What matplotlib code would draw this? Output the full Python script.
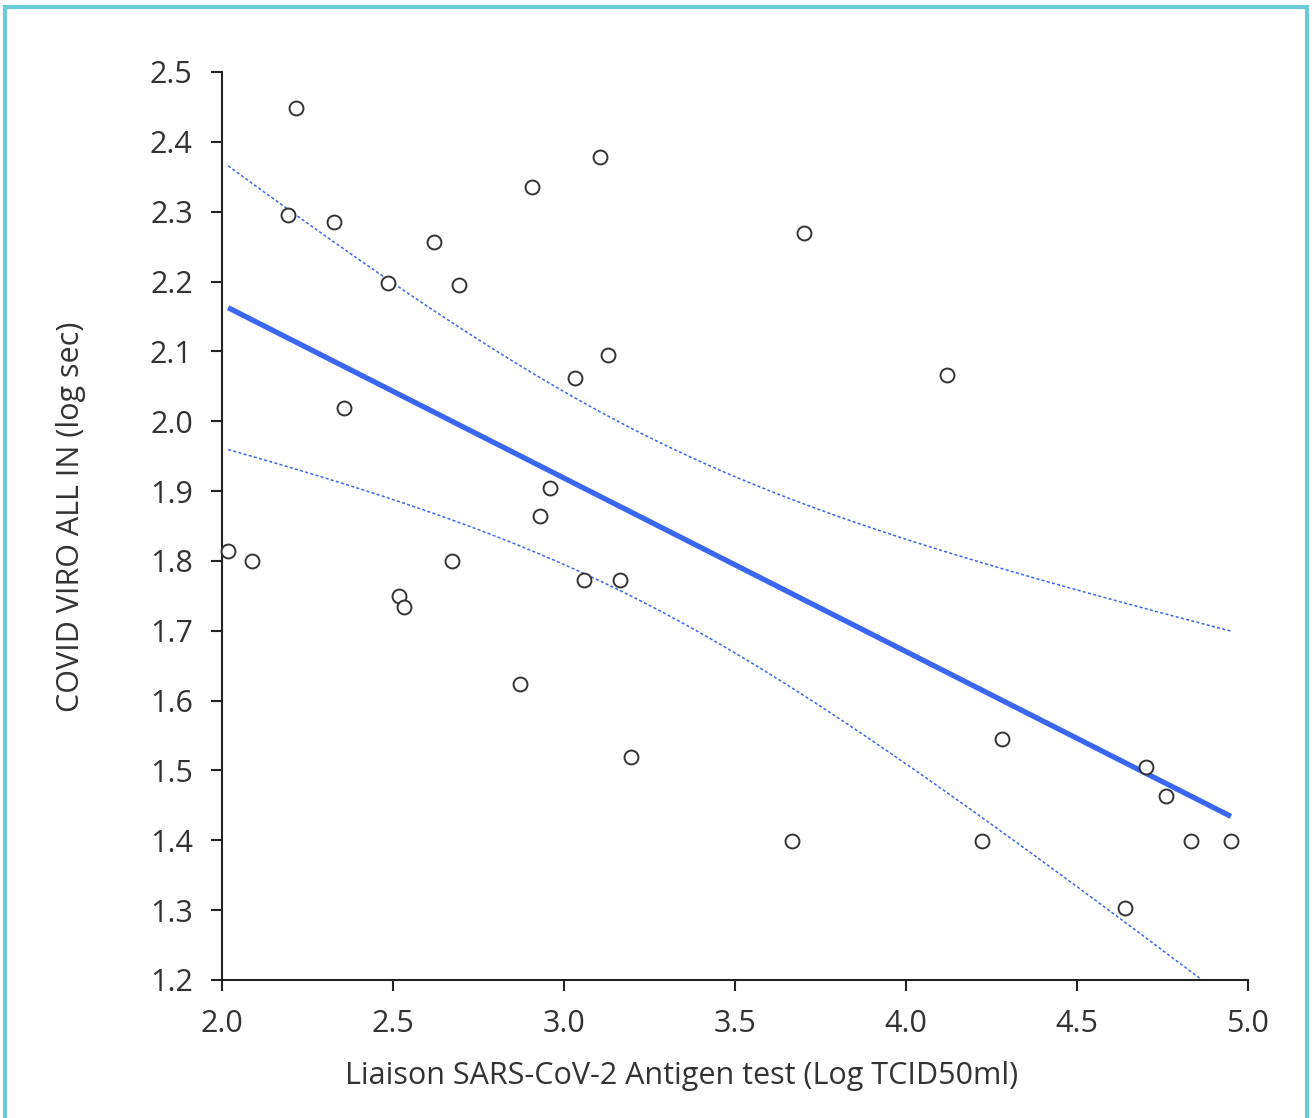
import numpy as np
import matplotlib
matplotlib.use("Agg")
import matplotlib.pyplot as plt
from matplotlib.patches import Rectangle

x_vals = [2.018, 2.088, 2.216, 2.193, 2.327, 2.357, 2.485, 2.518, 2.532, 2.620,
          2.693, 2.673, 2.871, 2.906, 2.930, 2.959, 3.032, 3.058, 3.105, 3.129,
          3.164, 3.196, 3.667, 3.702, 4.120, 4.222, 4.281, 4.640, 4.702, 4.760,
          4.833, 4.950]
y_vals = [1.814, 1.800, 2.448, 2.295, 2.285, 2.019, 2.198, 1.750, 1.734, 2.257,
          2.195, 1.800, 1.624, 2.335, 1.864, 1.904, 2.062, 1.773, 2.378, 2.095,
          1.773, 1.519, 1.399, 2.270, 2.066, 1.399, 1.545, 1.303, 1.505, 1.463,
          1.399, 1.399]

x_ticks = [2.0, 2.5, 3.0, 3.5, 4.0, 4.5, 5.0]
y_ticks = [1.2, 1.3, 1.4, 1.5, 1.6, 1.7, 1.8, 1.9, 2.0, 2.1, 2.2, 2.3, 2.4, 2.5]
x_label = "Liaison SARS-CoV-2 Antigen test (Log TCID50ml)"
y_label = "COVID VIRO ALL IN (log sec)"

plt.rcParams['font.family'] = ['Open Sans', 'DejaVu Sans']

x = np.array(x_vals)
y = np.array(y_vals)
n = len(x)
slope, intercept = np.polyfit(x, y, 1)
resid = y - (slope * x + intercept)
s = np.sqrt(np.sum(resid ** 2) / (n - 2))
xbar = x.mean()
sxx = np.sum((x - xbar) ** 2)
t = 2.53
xx = np.linspace(x.min(), x.max(), 200)
yy = slope * xx + intercept
half = t * s * np.sqrt(1.0 / n + (xx - xbar) ** 2 / sxx)

fig = plt.figure(figsize=(13.12, 11.18), dpi=100)
ax = fig.add_axes([222 / 1312, 1 - 980 / 1118, (1248 - 222) / 1312, (980 - 72) / 1118])

line_col = '#3a66f2'
ax.plot(xx, yy, color=line_col, lw=3.8, solid_capstyle='butt', zorder=2)
ax.plot(xx, yy + half, color=line_col, lw=1.1, ls=(0, (2, 1.5)), zorder=2)
ax.plot(xx, yy - half, color=line_col, lw=1.1, ls=(0, (2, 1.5)), zorder=2)
ax.plot(x, y, 'o', ms=10, mfc='white', mec='#333333', mew=1.4, ls='none', zorder=3, clip_on=False)

ax.set_xlim(2.0, 5.0)
ax.set_ylim(1.2, 2.5)
ax.set_xticks(x_ticks)
ax.set_yticks(y_ticks)
ax.set_xticklabels([f"{v:.1f}" for v in x_ticks])
ax.set_yticklabels([f"{v:.1f}" for v in y_ticks])
for sp in ['top', 'right']:
    ax.spines[sp].set_visible(False)
for sp in ['left', 'bottom']:
    ax.spines[sp].set_linewidth(1.5)
    ax.spines[sp].set_color('#222222')
ax.tick_params(direction='out', length=8, width=1.5, color='#222222',
               labelsize=22, labelcolor='#333333', pad=13)
ax.set_xlabel(x_label, fontsize=22, color='#333333', labelpad=8)
ax.xaxis.set_label_coords(0.448, -0.089)
ax.set_ylabel(y_label, fontsize=22, color='#333333', labelpad=18)
ax.yaxis.set_label_coords(-0.133, 0.51)

fig.patches.append(Rectangle((5 / 1312, -0.05), (1307 - 5) / 1312, 1 - 7 / 1118 + 0.05,
                             transform=fig.transFigure, fill=False,
                             edgecolor='#6ccbd9', lw=3, zorder=0))

fig.savefig('out.png', dpi=100)
